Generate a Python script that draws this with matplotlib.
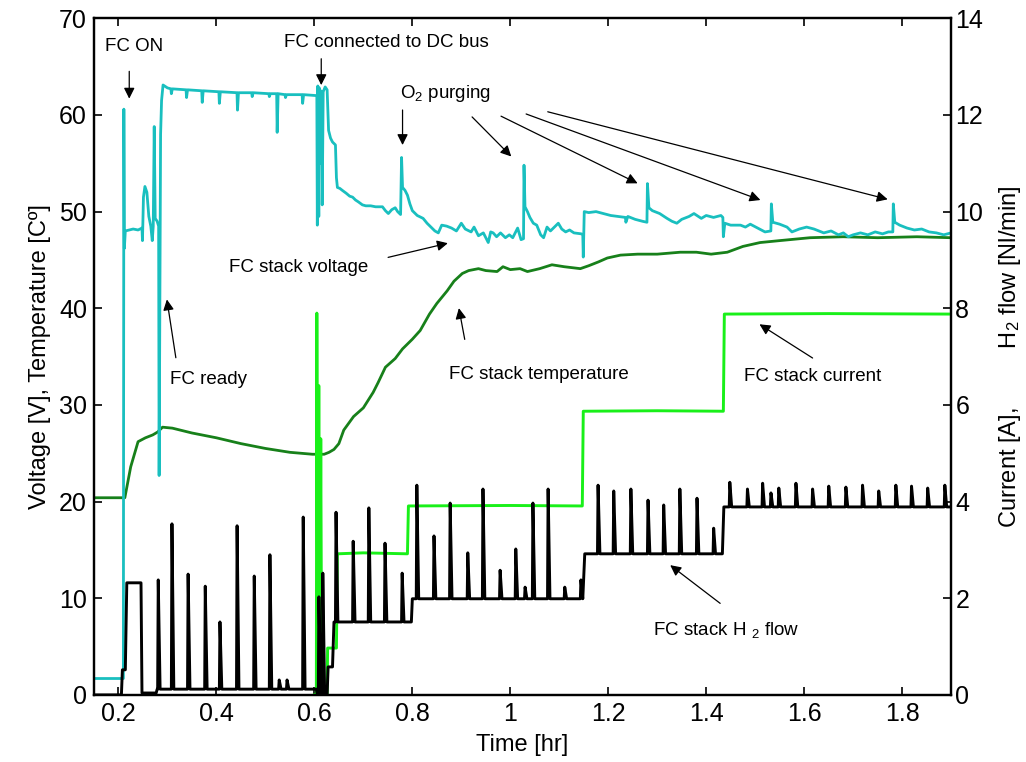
import numpy as np
import matplotlib
matplotlib.use("Agg")
import matplotlib.pyplot as plt

plt.rcParams["font.family"] = ["Liberation Sans", "DejaVu Sans"]
plt.rcParams["mathtext.fontset"] = "custom"
plt.rcParams["mathtext.rm"] = "Liberation Sans"
plt.rcParams["mathtext.it"] = "Liberation Sans:italic"

# ---------------- data ----------------
# FC stack voltage [V] (left axis)
volt_t = [0.15, 0.210, 0.211, 0.212, 0.214, 0.230, 0.240, 0.248, 0.249, 0.251, 0.254, 0.258,
          0.262, 0.266, 0.269, 0.271, 0.273, 0.275, 0.279, 0.282, 0.283, 0.286, 0.288, 0.291,
          0.300, 0.307, 0.308, 0.310, 0.338, 0.339, 0.341, 0.370, 0.371, 0.373, 0.405, 0.406,
          0.408, 0.442, 0.443, 0.445, 0.472, 0.473, 0.475, 0.507, 0.508, 0.510, 0.523, 0.524,
          0.526, 0.540, 0.541, 0.543, 0.575, 0.576, 0.578, 0.604,
          0.605, 0.606, 0.607, 0.609, 0.610, 0.612, 0.613, 0.615, 0.616, 0.618, 0.622, 0.626,
          0.629, 0.633, 0.637, 0.643, 0.645, 0.647, 0.652, 0.657, 0.665, 0.672, 0.678, 0.684,
          0.690, 0.698, 0.705, 0.715, 0.725, 0.739, 0.745, 0.751, 0.758, 0.765, 0.770, 0.776,
          0.778, 0.780, 0.785, 0.790, 0.795, 0.800, 0.810, 0.822, 0.830, 0.838, 0.846, 0.853,
          0.860, 0.870, 0.880, 0.890, 0.900, 0.908, 0.920, 0.926, 0.935, 0.945, 0.955, 0.960,
          0.965, 0.972, 0.980, 0.990, 0.998, 1.005, 1.015, 1.022, 1.027, 1.028, 1.030, 1.035,
          1.040, 1.047, 1.054, 1.062, 1.068, 1.075, 1.082, 1.090, 1.098, 1.105, 1.113, 1.121,
          1.130, 1.145, 1.148, 1.149, 1.151, 1.160, 1.175, 1.190, 1.205, 1.220, 1.235, 1.236,
          1.240, 1.255, 1.270, 1.279, 1.280, 1.283, 1.290, 1.305, 1.320, 1.330, 1.340, 1.350,
          1.365, 1.375, 1.390, 1.400, 1.415, 1.430, 1.434, 1.435, 1.438, 1.450, 1.470, 1.480,
          1.490, 1.505, 1.520, 1.532, 1.533, 1.536, 1.550, 1.565, 1.575, 1.590, 1.605, 1.620,
          1.640, 1.655, 1.670, 1.680, 1.690, 1.700, 1.715, 1.730, 1.745, 1.760, 1.772, 1.781,
          1.782, 1.785, 1.795, 1.810, 1.825, 1.840, 1.855, 1.870, 1.885, 1.900]
volt_v = [1.7, 1.7, 60.6, 46.2, 48.0, 48.2, 48.1, 48.3, 47.0, 51.5, 52.6, 52.0,
          49.5, 48.5, 47.0, 48.5, 58.8, 49.3, 49.0, 48.5, 22.7, 58.0, 61.5, 63.1,
          62.8, 62.7, 62.2, 62.7, 62.6, 61.8, 62.6, 62.5, 61.3, 62.5, 62.4, 61.2,
          62.4, 62.3, 60.5, 62.3, 62.3, 61.9, 62.3, 62.2, 61.9, 62.2, 62.2, 58.2,
          62.2, 62.1, 61.8, 62.1, 62.1, 61.2, 62.1, 62.0,
          62.0, 48.6, 63.0, 49.5, 62.8, 55.0, 62.5, 62.3, 50.7, 62.4, 62.9, 62.6,
          58.4, 57.6, 57.2, 56.9, 53.5, 52.5, 52.4, 52.2, 51.9, 51.6, 51.5, 51.2,
          51.0, 50.7, 50.6, 50.6, 50.5, 50.5, 50.1, 49.8, 50.2, 50.4, 50.0, 49.7,
          55.6, 52.5, 52.2, 51.7, 50.8, 50.1, 49.6, 49.3, 48.8, 48.4, 48.0, 47.8,
          48.6, 48.5, 48.3, 48.0, 48.8, 48.2, 47.9, 48.4, 47.5, 47.8, 46.8, 47.9,
          47.8, 47.4, 47.8, 47.3, 47.6, 47.3, 48.3, 47.1, 47.2, 54.8, 50.5, 50.0,
          49.4, 48.8, 48.6, 47.6, 47.3, 48.4, 48.0, 48.4, 48.8, 48.2, 47.9, 48.1,
          47.8, 47.7, 47.6, 45.3, 50.0, 49.9, 50.0, 49.8, 49.6, 49.5, 49.4, 48.9,
          49.5, 49.2, 49.0, 48.9, 52.9, 50.4, 50.1, 49.8, 49.3, 49.0, 48.8, 49.2,
          49.5, 49.8, 49.3, 49.6, 49.4, 49.6, 49.4, 47.4, 48.8, 48.6, 48.6, 48.4,
          48.7, 48.3, 47.9, 48.0, 50.8, 48.9, 48.7, 48.4, 47.9, 48.2, 48.4, 48.2,
          47.8, 48.0, 47.6, 47.8, 47.4, 47.6, 47.8, 47.6, 47.9, 47.7, 47.9, 47.9,
          50.8, 48.9, 48.6, 48.3, 48.1, 48.2, 47.9, 47.8, 47.6, 47.8]

# FC stack temperature [C] (left axis)
temp_t = [0.15, 0.213, 0.225, 0.240, 0.255, 0.270, 0.280, 0.290, 0.310, 0.350, 0.400, 0.450,
          0.500, 0.550, 0.596, 0.620, 0.630, 0.640, 0.650, 0.660, 0.680, 0.700, 0.720, 0.730,
          0.745, 0.765, 0.780, 0.800, 0.816, 0.835, 0.850, 0.871, 0.885, 0.902, 0.915, 0.935,
          0.950, 0.973, 0.985, 1.000, 1.020, 1.035, 1.060, 1.085, 1.110, 1.143, 1.160, 1.180,
          1.198, 1.225, 1.260, 1.300, 1.347, 1.380, 1.410, 1.443, 1.475, 1.510, 1.550, 1.612,
          1.680, 1.750, 1.830, 1.900]
temp_v = [20.4, 20.4, 23.6, 26.2, 26.6, 26.9, 27.2, 27.7, 27.6, 27.1, 26.6, 26.0,
          25.5, 25.1, 24.9, 24.9, 25.1, 25.4, 26.0, 27.4, 28.8, 29.7, 31.3, 32.3,
          33.9, 34.8, 35.8, 36.8, 37.7, 39.4, 40.5, 41.8, 42.8, 43.6, 43.9, 44.1,
          43.9, 43.8, 44.3, 44.0, 44.1, 43.8, 44.1, 44.5, 44.3, 44.1, 44.4, 44.8,
          45.2, 45.5, 45.6, 45.6, 45.8, 45.8, 45.6, 45.8, 46.4, 46.8, 47.0, 47.3,
          47.4, 47.3, 47.4, 47.3]

# FC stack current [A] (right axis)
curr_t = [0.600, 0.604, 0.605, 0.607, 0.609, 0.611, 0.613, 0.615, 0.626, 0.627, 0.645, 0.647,
          0.700, 0.790, 0.792, 1.000, 1.147, 1.149, 1.300, 1.435, 1.437, 1.650, 1.900]
curr_v = [0.0, 0.0, 7.9, 0.0, 6.4, 0.0, 5.3, 0.0, 0.0, 0.97, 0.97, 2.92,
          2.94, 2.92, 3.91, 3.92, 3.91, 5.87, 5.88, 5.87, 7.88, 7.89, 7.88]

# FC stack H2 flow [Nl/min] (right axis): baseline levels and purge peaks
flow_base_t = [0.15, 0.206, 0.208, 0.214, 0.217, 0.246, 0.248, 0.277, 0.279, 0.604, 0.606,
               0.626, 0.628, 0.637, 0.640, 0.798, 0.800, 1.148, 1.152, 1.433, 1.436, 1.900]
flow_base_v = [0.0, 0.0, 0.52, 0.52, 2.32, 2.32, 0.04, 0.04, 0.12, 0.12, 0.0,
               0.0, 0.58, 0.58, 1.51, 1.51, 1.99, 1.99, 2.92, 2.92, 3.89, 3.89]
purge_t = [0.280, 0.308, 0.341, 0.376, 0.406, 0.441, 0.476, 0.508, 0.527, 0.543, 0.576,
           0.608, 0.616, 0.643, 0.678, 0.710, 0.743, 0.778, 0.808, 0.843, 0.876, 0.912,
           0.943, 0.978, 1.010, 1.029, 1.045, 1.076, 1.110, 1.143, 1.178, 1.210, 1.245,
           1.280, 1.312, 1.345, 1.380, 1.414, 1.447, 1.483, 1.514, 1.531, 1.547, 1.582,
           1.616, 1.649, 1.684, 1.718, 1.751, 1.786, 1.818, 1.851, 1.886]
purge_peak = [2.38, 3.54, 2.50, 2.25, 1.51, 3.50, 2.46, 2.90, 0.31, 0.31, 3.68,
              2.03, 2.52, 3.78, 3.18, 3.87, 3.14, 2.52, 4.34, 3.29, 3.97, 2.94,
              4.26, 2.58, 3.02, 2.23, 3.97, 4.26, 2.23, 2.38, 4.34, 4.22, 4.26,
              4.03, 3.93, 4.26, 4.07, 3.45, 4.40, 4.26, 4.38, 4.18, 4.28, 4.38,
              4.26, 4.32, 4.30, 4.34, 4.22, 4.34, 4.32, 4.28, 4.34]

# ---------------- build the flow trace ----------------
pts = list(zip(flow_base_t, flow_base_v))
for tp, pk in zip(purge_t, purge_peak):
    b0 = float(np.interp(tp, flow_base_t, flow_base_v))
    b1 = float(np.interp(tp + 0.005, flow_base_t, flow_base_v))
    pts += [(tp, b0), (tp + 0.0012, pk), (tp + 0.005, b1)]
pts.sort(key=lambda p: p[0])
flow_t = [p[0] for p in pts]
flow_v = [p[1] for p in pts]

# ---------------- figure ----------------
fig = plt.figure(figsize=(10.26, 7.62), dpi=100)
ax = fig.add_axes([0.0916, 0.088, 0.8354, 0.888])
ax2 = ax.twinx()

c_volt = "#19bfbf"
c_temp = "#17801a"
c_curr = "#19f019"
c_flow = "#000000"

ax.plot(temp_t, temp_v, color=c_temp, lw=2.0)
ax.plot(volt_t, volt_v, color=c_volt, lw=2.0)
ax2.plot(curr_t, curr_v, color=c_curr, lw=2.1)
ax2.plot(flow_t, flow_v, color=c_flow, lw=2.1)

ax.set_xlim(0.15, 1.9)
ax.set_ylim(0, 70)
ax2.set_ylim(0, 14)
ax.set_xticks([0.2, 0.4, 0.6, 0.8, 1.0, 1.2, 1.4, 1.6, 1.8])
ax.set_xticklabels(["0.2", "0.4", "0.6", "0.8", "1", "1.2", "1.4", "1.6", "1.8"])
ax.set_yticks(range(0, 71, 10))
ax2.set_yticks(range(0, 15, 2))

for a in (ax, ax2):
    for s in a.spines.values():
        s.set_linewidth(1.6)
ax.tick_params(direction="in", length=6, width=1.2, labelsize=18, top=True, pad=5)
ax2.tick_params(direction="in", length=6, width=1.2, labelsize=18, pad=3)

ax.set_xlabel("Time [hr]", fontsize=17, labelpad=6)
ax.set_ylabel("Voltage [V], Temperature [Cº]", fontsize=17, labelpad=6)
ax2.set_ylabel("Current [A],         H$_2$ flow [Nl/min]", fontsize=17, labelpad=10)

# ---------------- annotations ----------------
fs = 13.5
arw = dict(arrowstyle="-|>", color="black", lw=0.9, mutation_scale=16)

ax.text(0.231, 67.1, "FC ON", fontsize=fs, ha="center", va="center")
ax.annotate("", xy=(0.222, 61.4), xytext=(0.222, 64.8), arrowprops=arw)

ax.text(0.747, 67.5, "FC connected to DC bus", fontsize=fs, ha="center", va="center")
ax.annotate("", xy=(0.614, 62.8), xytext=(0.614, 66.1), arrowprops=arw)

ax.text(0.867, 62.2, "O$_2$ purging", fontsize=fs, ha="center", va="center")
purge_arrows = [((0.780, 60.8), (0.780, 56.6)),
                ((0.918, 60.0), (1.006, 55.5)),
                ((0.976, 60.0), (1.265, 52.8)),
                ((1.027, 60.2), (1.516, 51.1)),
                ((1.071, 60.4), (1.776, 51.2))]
for start, tip in purge_arrows:
    ax.annotate("", xy=tip, xytext=start, arrowprops=arw)

ax.text(0.567, 44.2, "FC stack voltage", fontsize=fs, ha="center", va="center")
ax.annotate("", xy=(0.878, 46.8), xytext=(0.745, 45.2), arrowprops=arw)

ax.text(0.384, 32.6, "FC ready", fontsize=fs, ha="center", va="center")
ax.annotate("", xy=(0.298, 41.2), xytext=(0.318, 34.6), arrowprops=arw)

ax.text(1.059, 33.2, "FC stack temperature", fontsize=fs, ha="center", va="center")
ax.annotate("", xy=(0.894, 40.3), xytext=(0.908, 36.5), arrowprops=arw)

ax.text(1.618, 32.9, "FC stack current", fontsize=fs, ha="center", va="center")
ax.annotate("", xy=(1.504, 38.5), xytext=(1.622, 34.7), arrowprops=arw)

ax.text(1.441, 6.7, "FC stack H $_2$ flow", fontsize=fs, ha="center", va="center")
ax.annotate("", xy=(1.322, 13.6), xytext=(1.433, 9.3), arrowprops=arw)

fig.savefig("out.png", dpi=100)
